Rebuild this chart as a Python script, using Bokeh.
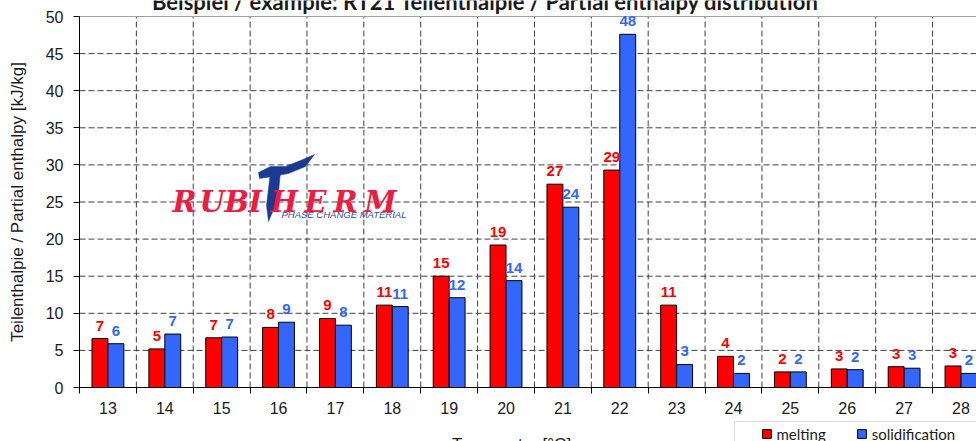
import math
from bokeh.plotting import figure
from bokeh.models import (Range1d, FixedTicker, Label, Legend, LegendItem,
                          BoxAnnotation, ColumnDataSource)
from bokeh.transform import dodge
from bokeh.embed import file_html
from bokeh.resources import INLINE
from bokeh.core.properties import value

# ---------------- data ----------------
temps = list(range(13, 29))
melting = [6.6, 5.2, 6.7, 8.1, 9.3, 11.1, 15.0, 19.2, 27.4, 29.3, 11.1, 4.2, 2.1, 2.5, 2.8, 2.9]
solidification = [5.9, 7.2, 6.8, 8.8, 8.4, 10.9, 12.1, 14.4, 24.3, 47.6, 3.1, 1.9, 2.1, 2.4, 2.6, 1.9]
y_ticks = list(range(0, 55, 5))
series_names = ["melting", "solidification"]
title_text = "Beispiel / example: RT21 Teilenthalpie / Partial enthalpy distribution"
x_title = "Temperatur [°C]"
y_title = "Teilenthalpie / Partial enthalpy [kJ/kg]"


def rnd(v):
    return str(int(math.floor(v + 0.5)))


mel_lab = [rnd(v) for v in melting]
sol_lab = [rnd(v) for v in solidification]
boundaries = [t + 0.5 for t in temps[:-1]]

RED = "#FF0000"
BLUE = "#3366FF"
GRID = "#404040"

# ---------------- layout helpers ----------------
FIG_W, FIG_H = 976, 441
F_LEFT = 79          # pixel column of the y axis
ZERO_PX = 387        # pixel row of y = 0
CAT_PX = 56.87       # px per category
Y_PX = 7.42          # px per kJ/kg
X0 = temps[0] - 0.5


def px2x(px):
    return X0 + (px - F_LEFT) / CAT_PX


def px2y(py):
    return (ZERO_PX - py) / Y_PX


X_END = px2x(FIG_W)
Y_TOP = y_ticks[-1]

p = figure(width=FIG_W, height=FIG_H,
           x_range=Range1d(px2x(0), X_END),
           y_range=Range1d(px2y(FIG_H), px2y(0)),
           output_backend="svg", toolbar_location=None,
           min_border=0, min_border_left=0, min_border_right=0,
           min_border_top=0, min_border_bottom=0)
p.outline_line_color = None
p.background_fill_color = "white"
p.border_fill_color = "white"
p.grid.visible = False

# x axis at y = 0
p.xaxis.fixed_location = 0
p.xaxis.bounds = (X0, X_END)
p.xaxis.ticker = FixedTicker(ticks=temps, minor_ticks=[t - 0.5 for t in temps])
p.xaxis.major_tick_line_color = None
p.xaxis.major_tick_out = 5
p.xaxis.major_tick_in = 0
p.xaxis.minor_tick_line_color = "black"
p.xaxis.minor_tick_out = 6
p.xaxis.minor_tick_in = 0
p.xaxis.major_label_standoff = 8
p.xaxis.major_label_text_font = "Liberation Sans"
p.xaxis.major_label_text_font_size = "16px"
p.xaxis.major_label_text_color = "#1a1a1a"
p.xaxis.axis_line_color = "black"

# y axis at the left edge of the first category
p.yaxis.fixed_location = X0
p.yaxis.bounds = (y_ticks[0], Y_TOP)
p.yaxis.ticker = FixedTicker(ticks=y_ticks)
p.yaxis.minor_tick_line_color = None
p.yaxis.major_tick_out = 6
p.yaxis.major_tick_in = 0
p.yaxis.major_tick_line_color = "black"
p.yaxis.axis_line_color = "black"
p.yaxis.major_label_standoff = 10
p.yaxis.major_label_text_font = "Liberation Sans"
p.yaxis.major_label_text_font_size = "16px"
p.yaxis.major_label_text_color = "#1a1a1a"

# dashed grid: horizontal at inner y ticks, vertical at category boundaries
inner = y_ticks[1:-1]
p.segment(x0=[X0] * len(inner), y0=inner, x1=[X_END] * len(inner), y1=inner,
          line_color=GRID, line_width=1, line_dash="6 3")
p.segment(x0=boundaries, y0=[y_ticks[0]] * len(boundaries),
          x1=boundaries, y1=[Y_TOP] * len(boundaries),
          line_color=GRID, line_width=1, line_dash="6 3")
p.segment(x0=[X0], y0=[Y_TOP], x1=[X_END], y1=[Y_TOP], line_color="#a0a0a0", line_width=1)

# ---------------- logo (decoration) ----------------
logo_letters = ["R", "U", "B", "I", "H", "E", "R", "M"]
logo_left_px = [172, 199, 224, 248, 270, 304, 333, 364]
for ch, lx in zip(logo_letters, logo_left_px):
    p.add_layout(Label(x=px2x(lx), y=px2y(201), text=ch, text_align="left",
                       text_baseline="alphabetic", text_font="DejaVu Serif",
                       text_font_style="bold italic", text_font_size="29px",
                       text_color="#EE1C43"))

T_BLUE = "#1B3A94"
cross_px = [(258, 172), (270, 166), (285, 166), (300, 160), (314, 154),
            (305, 166), (288, 173), (272, 176), (259, 178)]
stem_px = [(270, 171), (280, 171), (278, 192), (274, 207), (268, 221),
           (266, 205), (268, 188)]
for poly in (cross_px, stem_px):
    p.patch([px2x(a) for a, b in poly], [px2y(b) for a, b in poly],
            fill_color=T_BLUE, line_color=T_BLUE, line_width=0.5)

p.add_layout(Label(x=px2x(281), y=px2y(213.5), text="PHASE CHANGE MATERIAL",
                   text_align="left", text_baseline="alphabetic",
                   text_font="Liberation Sans", text_font_style="italic",
                   text_font_size="9.5px", text_color="#2E4A9E"))

# ---------------- bars ----------------
src = ColumnDataSource(dict(temp=temps, melting=melting, solidification=solidification,
                            mlab=mel_lab, slab=sol_lab))
r1 = p.vbar(x=dodge("temp", -0.14, range=p.x_range), top="melting", width=0.28,
            fill_color=RED, line_color="black", line_width=1, source=src)
r2 = p.vbar(x=dodge("temp", 0.14, range=p.x_range), top="solidification", width=0.28,
            fill_color=BLUE, line_color="black", line_width=1, source=src)

p.text(x=dodge("temp", -0.14, range=p.x_range), y="melting", text="mlab",
       text_align="center", text_baseline="alphabetic", y_offset=-13,
       text_color=RED, text_font=value("Liberation Sans"), text_font_style="bold",
       text_font_size="15px", source=src)
p.text(x=dodge("temp", 0.14, range=p.x_range), y="solidification", text="slab",
       text_align="center", text_baseline="alphabetic", y_offset=-13,
       text_color=BLUE, text_font=value("Liberation Sans"), text_font_style="bold",
       text_font_size="15px", source=src)

# ---------------- titles ----------------
p.add_layout(Label(x=px2x(485), y=px2y(1), text=title_text, text_align="center",
                   text_baseline="alphabetic", text_font="Lato", text_font_style="bold",
                   text_font_size="22px", text_color="#1a1a1a"))
p.add_layout(Label(x=px2x(511), y=px2y(434), text=x_title, text_align="center",
                   text_baseline="top", text_font="Liberation Sans",
                   text_font_size="17px", text_color="#1a1a1a"))
p.add_layout(Label(x=px2x(17), y=px2y(201.5), text=y_title, angle=math.pi / 2,
                   text_align="center", text_baseline="middle",
                   text_font="Liberation Sans", text_font_size="17px",
                   text_color="#1a1a1a"))

# ---------------- legend ----------------
p.add_layout(BoxAnnotation(left=px2x(734), right=px2x(1010), top=px2y(421), bottom=px2y(480),
                           fill_color="white", fill_alpha=1.0, line_color="#8c8c8c",
                           line_width=1))
legend = Legend(items=[LegendItem(label=series_names[0], renderers=[r1]),
                       LegendItem(label=series_names[1], renderers=[r2])],
                orientation="horizontal", location=(760.5, -1.7), padding=2,
                spacing=30, label_standoff=5, glyph_width=11, glyph_height=11,
                label_text_font="Lato", label_text_font_size="15px",
                label_text_color="#1a1a1a", border_line_color=None,
                background_fill_alpha=0, margin=0)
p.add_layout(legend)

open("out.html", "w").write(file_html(p, INLINE))
